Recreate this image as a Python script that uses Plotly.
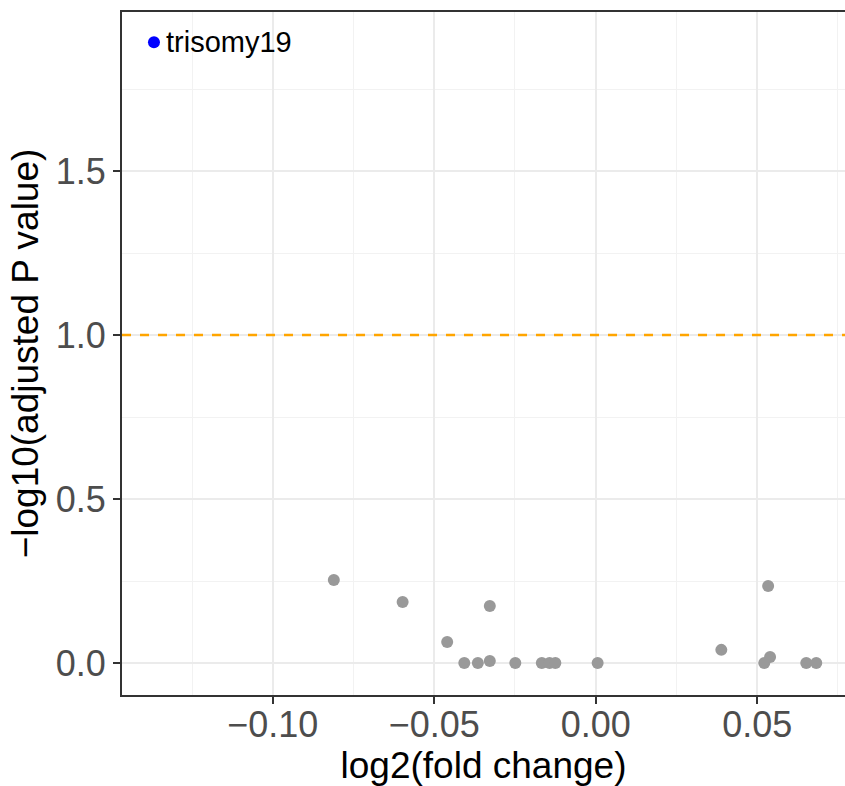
import plotly.graph_objects as go

# data
gray_x = [-0.0811, -0.0598, -0.0460, -0.0407, -0.0365, -0.0328, -0.0328, -0.0249,
          -0.0167, -0.0143, -0.0125, 0.0006, 0.0389, 0.0534, 0.0522, 0.0540, 0.0652, 0.0683]
gray_y = [0.253, 0.186, 0.064, 0.0, 0.0, 0.006, 0.174, 0.0,
          0.0, 0.0, 0.0, 0.0, 0.040, 0.235, 0.0, 0.018, 0.0, 0.0]
sig_x = [-0.1368]
sig_y = [1.893]
sig_labels = ["trisomy19"]
threshold = 1.0
x_ticks = [-0.10, -0.05, 0.00, 0.05]
x_tick_labels = ["\u22120.10", "\u22120.05", "0.00", "0.05"]
y_ticks = [0.0, 0.5, 1.0, 1.5]
y_tick_labels = ["0.0", "0.5", "1.0", "1.5"]

FONT = "Liberation Sans, Arial, Helvetica"

fig = go.Figure()
fig.add_trace(go.Scatter(x=gray_x, y=gray_y, mode="markers",
                         marker=dict(color="#999999", size=12), showlegend=False, cliponaxis=False))
fig.add_trace(go.Scatter(x=sig_x, y=sig_y, mode="markers",
                         marker=dict(color="#0000FF", size=12), showlegend=False))
for lx, ly, lt in zip(sig_x, sig_y, sig_labels):
    fig.add_annotation(x=lx, y=ly, text=lt, showarrow=False, xanchor="left", yanchor="middle",
                       xshift=10, font=dict(family=FONT, size=29, color="black"))
fig.add_hline(y=threshold, line=dict(color="#FFA500", dash="dash", width=2.5))

axis_common = dict(
    showgrid=True, gridcolor="#EBEBEB", gridwidth=2,
    zeroline=False, showline=True, linecolor="#333333", linewidth=2, mirror=True,
    ticks="outside", ticklen=7, tickcolor="#333333", tickwidth=2,
    tickfont=dict(family=FONT, size=36, color="#4D4D4D"),
)

fig.update_xaxes(range=[-0.1467, 0.0772], tickvals=x_ticks, ticktext=x_tick_labels,
                 minor=dict(dtick=0.05, tick0=-0.125, showgrid=True, gridcolor="#F2F2F2", gridwidth=1, ticks=""),
                 title=dict(text="log2(fold change)", font=dict(family=FONT, size=37, color="black"), standoff=6),
                 automargin=False, ticklabelstandoff=-10,
                 **axis_common)
fig.update_yaxes(range=[-0.0976, 1.985], tickvals=y_ticks, ticktext=y_tick_labels,
                 minor=dict(dtick=0.5, tick0=0.25, showgrid=True, gridcolor="#F2F2F2", gridwidth=1, ticks=""),
                 title=dict(text="\u2212log10(adjusted P value)", font=dict(family=FONT, size=37, color="black"), standoff=6),
                 automargin=False,
                 **axis_common)

fig.update_layout(width=845, height=786, plot_bgcolor="white", paper_bgcolor="white",
                  margin=dict(l=122, r=0, t=12, b=91))
fig.write_html("out.html", config={"displayModeBar": False},
               post_script="document.body.style.margin='0';")
